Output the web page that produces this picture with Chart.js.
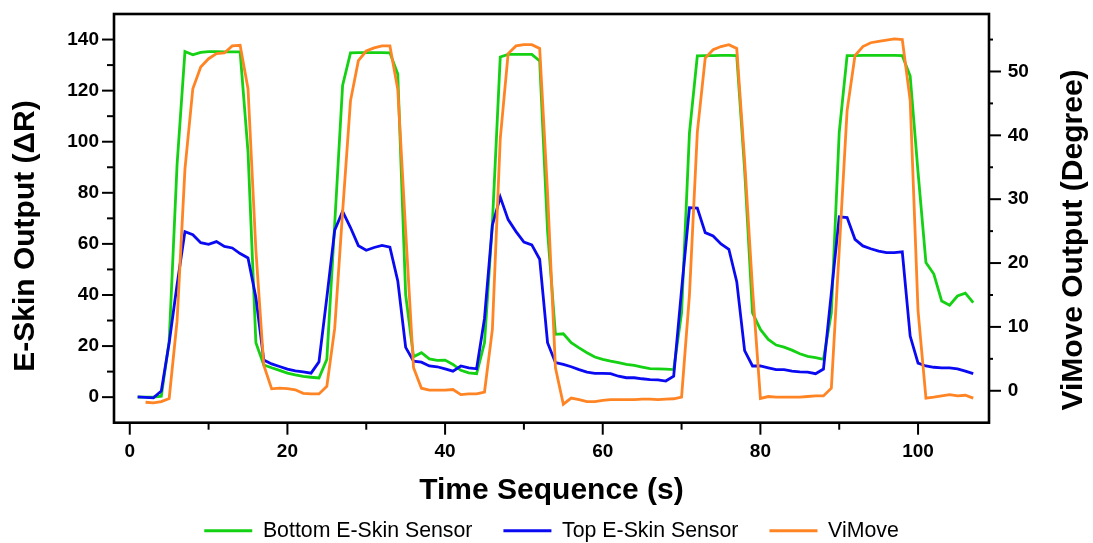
<!DOCTYPE html>
<html>
<head>
<meta charset="utf-8">
<script src="https://cdn.jsdelivr.net/npm/chart.js@4.4.1/dist/chart.umd.min.js"></script>
<style>
html,body{margin:0;padding:0;background:#fff;overflow:hidden;}
#wrap{width:1093px;height:543px;position:relative;}
canvas{display:block;}
</style>
</head>
<body>
<div id="wrap"><canvas id="c" width="1093" height="543" style="width:1093px;height:543px;"></canvas></div>
<script>
// ---- data ----
const timeSec = [1,2,3,4,5,6,7,8,9,10,11,12,13,14,15,16,17,18,19,20,21,22,23,24,25,26,27,28,29,30,31,32,33,34,35,36,37,38,39,40,41,42,43,44,45,46,47,48,49,50,51,52,53,54,55,56,57,58,59,60,61,62,63,64,65,66,67,68,69,70,71,72,73,74,75,76,77,78,79,80,81,82,83,84,85,86,87,88,89,90,91,92,93,94,95,96,97,98,99,100,101,102,103,104,105,106,107];

const bottomSensor = [0, 0, 0, 0.4, 22, 91, 135.3, 134, 135, 135.3,
  135.3, 135.2, 135.2, 135.2, 96, 21.3, 12.6, 11.5, 10.5, 9.4,
  8.7, 8.1, 7.8, 7.5, 14.8, 68, 122, 134.8, 134.9, 134.9,
  134.9, 134.9, 134.8, 126.5, 40, 15.8, 17.4, 15, 14.4, 14.5,
  12.8, 10.5, 9.5, 9.2, 21.3, 68, 133.2, 134.2, 134.2, 134.2,
  134.2, 131.6, 65, 24.6, 24.8, 21.3, 19.3, 17.4, 15.7, 14.8,
  14.1, 13.5, 12.8, 12.4, 11.8, 11.2, 11.1, 11, 10.8, 33,
  103.5, 133.6, 133.7, 133.7, 133.8, 133.8, 133.7, 89, 33, 26.5,
  22.6, 20.4, 19.6, 18.4, 17, 16, 15.5, 14.8, 33, 103.7,
  133.7, 133.7, 133.8, 133.8, 133.8, 133.8, 133.8, 133.7, 125.7, 88,
  52.7, 48.2, 37.6, 36, 39.6, 40.7, 37];

const topSensor = [0.1, -0.1, -0.3, 2.4, 21.3, 44, 64.8, 63.6, 60.5, 59.8,
  60.9, 59, 58.4, 56.2, 54.5, 39, 14.5, 13, 12, 11,
  10.3, 9.9, 9.4, 13.8, 39, 65.4, 72.7, 66.4, 59.3, 57.5,
  58.6, 59.4, 58.7, 45.5, 19.5, 14.1, 13.7, 12.2, 11.9, 11.1,
  10.2, 12.2, 11.5, 11.1, 30.8, 67.3, 78.3, 69.5, 64.8, 60.7,
  59.6, 54, 21.3, 13.5, 12.8, 11.9, 10.8, 9.8, 9.3, 9.3,
  9.2, 8.2, 7.6, 7.6, 7.2, 6.9, 6.8, 6.3, 8.2, 42,
  74.2, 74, 64.4, 63.1, 60, 57.9, 45.2, 18.2, 12.2, 12.2,
  11.5, 10.8, 10.8, 10.2, 9.9, 9.8, 9.2, 11, 40.8, 70.6,
  70.3, 61.8, 59.2, 58.1, 57.2, 56.6, 56.6, 56.9, 23.9, 13.3,
  12.2, 11.7, 11.5, 11.5, 11.1, 10.2, 9.2];

const viMove = [null, -1.8, -1.9, -1.7, -1.2, 10.9, 34.7, 47.3, 50.7, 52,
  52.8, 52.9, 54, 54.1, 47.3, 22, 4, 0.3, 0.4, 0.35,
  0.15, -0.4, -0.5, -0.5, 0.7, 9.8, 28, 45.4, 51.7, 53.2,
  53.7, 54, 54, 47.2, 25, 3.6, 0.4, 0.1, 0.1, 0.1,
  0.2, -0.6, -0.5, -0.5, -0.2, 9.6, 39.5, 52.8, 54, 54.2,
  54.2, 53.6, 31, 3.6, -2.1, -1.15, -1.4, -1.7, -1.7, -1.5,
  -1.4, -1.4, -1.4, -1.4, -1.3, -1.3, -1.4, -1.3, -1.25, -1,
  15, 40.5, 52.1, 53.4, 53.9, 54.2, 53.6, 36, 16, -1.2,
  -0.9, -1, -1, -1, -1, -0.9, -0.8, -0.8, 0.4, 22,
  43.9, 52.5, 53.9, 54.5, 54.7, 54.9, 55.1, 55, 45.5, 12.5,
  -1.15, -1, -0.8, -0.6, -0.8, -0.7, -1.15];

const seriesNames = ['Bottom E-Skin Sensor', 'Top E-Skin Sensor', 'ViMove'];
const xTicks = [0, 20, 40, 60, 80, 100];
const xMinorTicks = [10, 30, 50, 70, 90];
const leftTicks = [0, 20, 40, 60, 80, 100, 120, 140];
const leftMinorTicks = [10, 30, 50, 70, 90, 110, 130];
const rightTicks = [0, 10, 20, 30, 40, 50];
const rightMinorTicks = [5, 15, 25, 35, 45, 55];
const xTitle = 'Time Sequence (s)';
const leftTitle = 'E-Skin Output (\u0394R)';
const rightTitle = 'ViMove Output (Degree)';

// ---- chart ----
const FONT = "'Liberation Sans', Arial, Helvetica, sans-serif";
const pts = arr => timeSec.map((t, i) => ({x: t, y: arr[i]}));

const framePlugin = {
  id: 'frame',
  afterLayout(chart) {
    // nudge the legend row to its place under the axis title
    if (chart.legend) {
      chart.legend.top += 8.5; chart.legend.bottom += 8.5;
      chart.legend.left += 5; chart.legend.right += 5;
    }
  },
  afterDatasetsDraw(chart) {
    const {ctx, chartArea: a, scales} = chart;
    ctx.save();
    ctx.strokeStyle = '#000';
    ctx.lineCap = 'butt';
    const seg = (x1, y1, x2, y2) => { ctx.beginPath(); ctx.moveTo(x1, y1); ctx.lineTo(x2, y2); ctx.stroke(); };
    ctx.lineWidth = 2;
    xTicks.forEach(v => { const x = scales.x.getPixelForValue(v); seg(x, a.bottom, x, a.bottom + 12); });
    xMinorTicks.forEach(v => { const x = scales.x.getPixelForValue(v); seg(x, a.bottom, x, a.bottom + 7); });
    leftTicks.forEach(v => { const y = scales.y.getPixelForValue(v); seg(a.left, y, a.left - 12, y); });
    leftMinorTicks.forEach(v => { const y = scales.y.getPixelForValue(v); seg(a.left, y, a.left - 7, y); });
    rightTicks.forEach(v => { const y = scales.y2.getPixelForValue(v); seg(a.right, y, a.right + 12, y); });
    rightMinorTicks.forEach(v => { const y = scales.y2.getPixelForValue(v); seg(a.right, y, a.right + 4, y); });
    ctx.lineWidth = 2.6;
    ctx.strokeRect(a.left, a.top, a.right - a.left, a.bottom - a.top);
    ctx.restore();
  },
  afterDraw(chart) {
    const ctx = chart.ctx;
    ctx.save();
    ctx.fillStyle = '#000';
    ctx.font = 'bold 30px ' + FONT;
    ctx.textAlign = 'center';
    ctx.textBaseline = 'middle';
    ctx.save();
    ctx.translate(26, 236);
    ctx.rotate(-Math.PI / 2);
    ctx.fillText(leftTitle, 0, 0);
    ctx.restore();
    ctx.save();
    ctx.translate(1074, 240);
    ctx.rotate(-Math.PI / 2);
    ctx.fillText(rightTitle, 0, 0);
    ctx.restore();
    ctx.restore();
  }
};

const setTicks = list => scale => { scale.ticks = list.map(v => ({value: v})); };
const fixVertical = w => s => { s.width = w; s.paddingTop = 0; s.paddingBottom = 0; };

new Chart(document.getElementById('c'), {
  type: 'line',
  data: {
    datasets: [
      {label: seriesNames[0], data: pts(bottomSensor), borderColor: '#14d114', backgroundColor: '#14d114', pointBorderColor: '#14d114', yAxisID: 'y', order: 3},
      {label: seriesNames[1], data: pts(topSensor), borderColor: '#0a0af2', backgroundColor: '#0a0af2', pointBorderColor: '#0a0af2', yAxisID: 'y', order: 2},
      {label: seriesNames[2], data: pts(viMove), borderColor: '#ff8424', backgroundColor: '#ff8424', pointBorderColor: '#ff8424', yAxisID: 'y2', order: 1}
    ]
  },
  options: {
    responsive: false,
    maintainAspectRatio: false,
    animation: false,
    devicePixelRatio: 1,
    layout: {padding: {top: 14, left: 0, right: 0, bottom: 0}},
    elements: {
      line: {borderWidth: 2.8, tension: 0, borderJoinStyle: 'miter', fill: false},
      point: {radius: 0, hoverRadius: 0, borderWidth: 3}
    },
    plugins: {
      tooltip: {enabled: false},
      legend: {
        position: 'bottom',
        labels: {
          usePointStyle: true,
          pointStyle: 'line',
          pointStyleWidth: 48,
          padding: 31,
          color: '#000',
          font: {family: FONT, size: 21.3},
          sort: (a, b) => a.datasetIndex - b.datasetIndex
        }
      }
    },
    scales: {
      x: {
        type: 'linear',
        min: -2, max: 109,
        afterBuildTicks: setTicks(xTicks),
        afterFit: s => { s.height = 58; },
        grid: {display: false, drawTicks: false},
        border: {display: false},
        ticks: {color: '#000', padding: 17.6, maxRotation: 0, autoSkip: false, font: {family: FONT, size: 19, weight: 'bold'}},
        title: {display: true, text: xTitle, color: '#000', padding: {top: 0, bottom: -28}, font: {family: FONT, size: 30, weight: 'bold'}}
      },
      y: {
        type: 'linear', position: 'left',
        min: -10, max: 150,
        afterBuildTicks: setTicks(leftTicks),
        afterFit: fixVertical(114),
        grid: {display: false, drawTicks: false},
        border: {display: false},
        ticks: {color: '#000', padding: 15, autoSkip: false, font: {family: FONT, size: 19, weight: 'bold'}}
      },
      y2: {
        type: 'linear', position: 'right',
        min: -5, max: 59,
        afterBuildTicks: setTicks(rightTicks),
        afterFit: fixVertical(104),
        grid: {display: false, drawTicks: false},
        border: {display: false},
        ticks: {color: '#000', padding: 18.7, autoSkip: false, font: {family: FONT, size: 19, weight: 'bold'}}
      }
    }
  },
  plugins: [framePlugin]
});
</script>
</body>
</html>
